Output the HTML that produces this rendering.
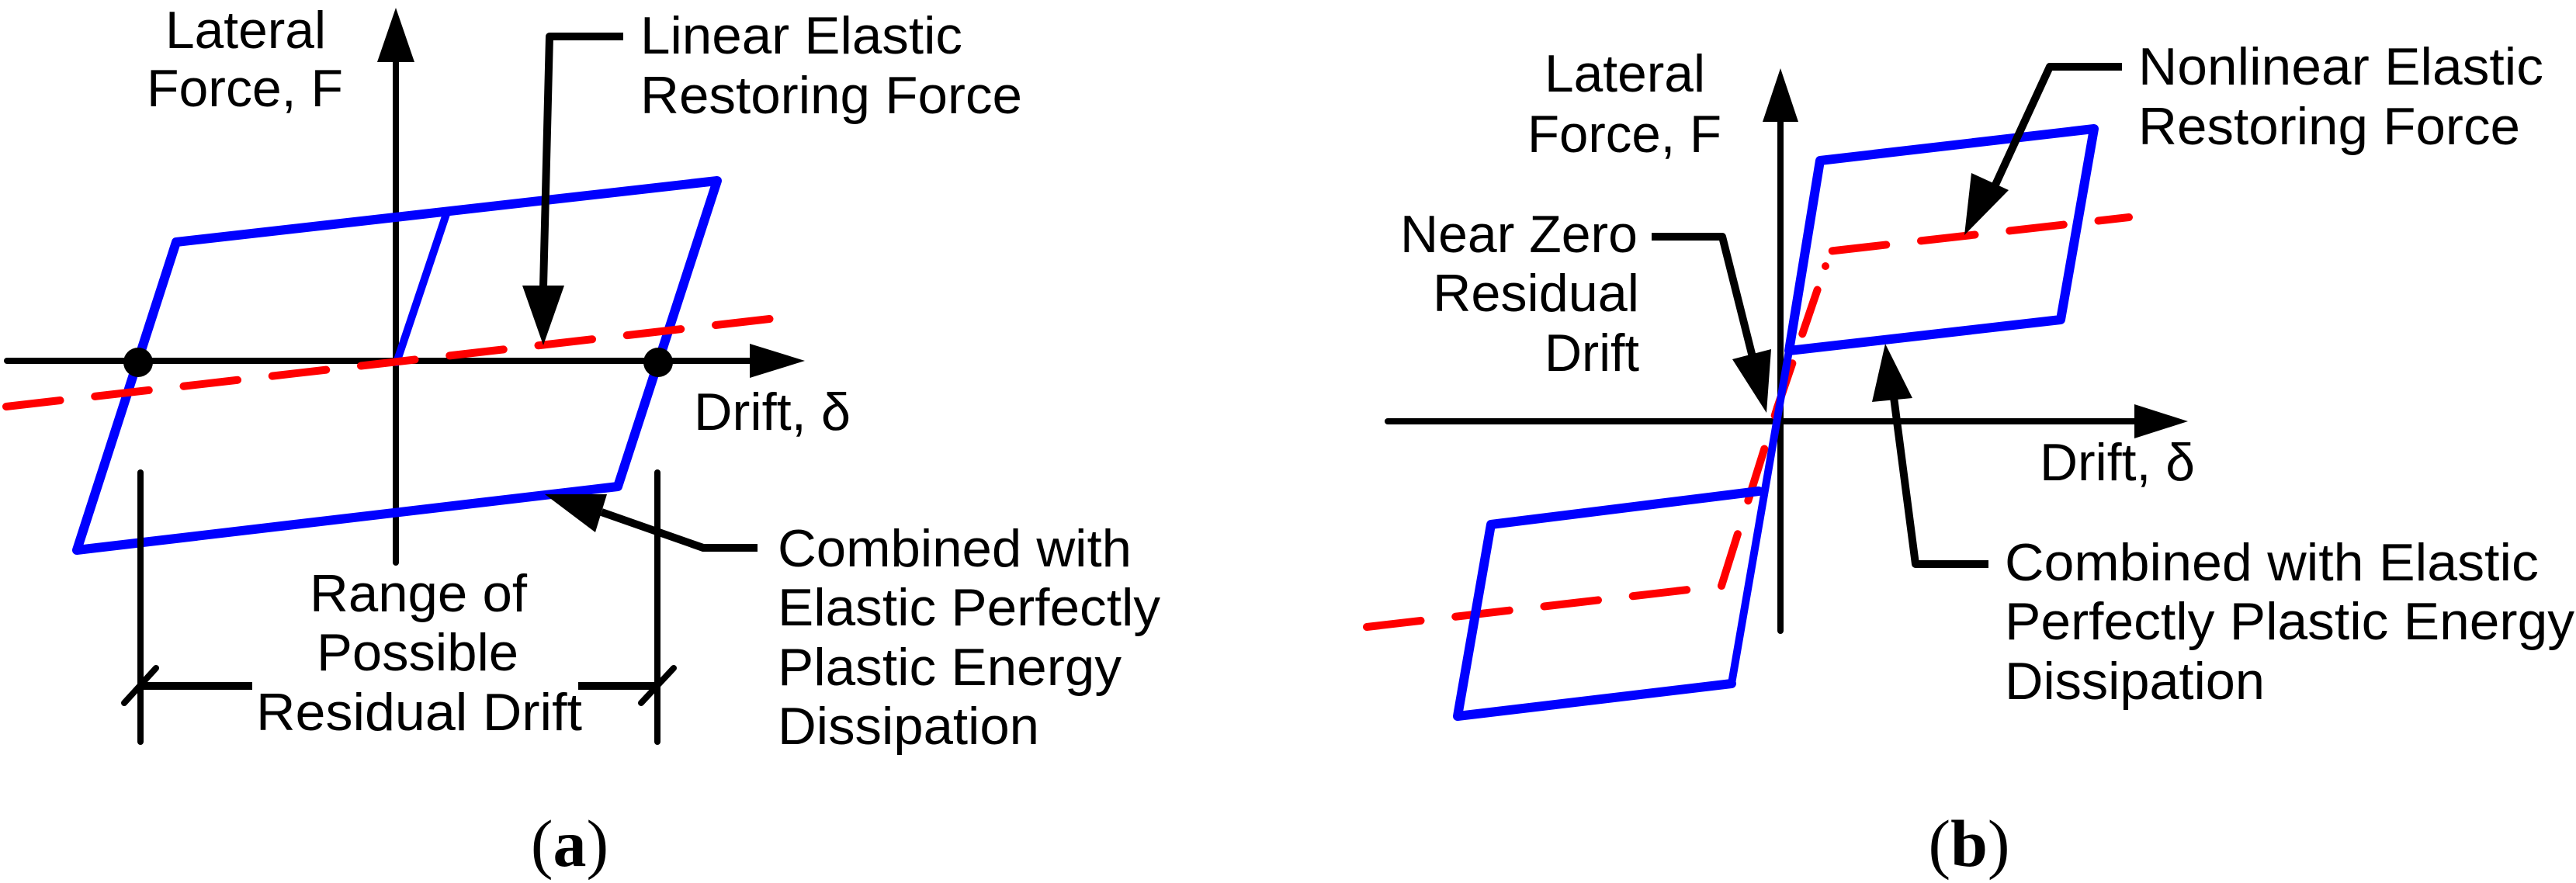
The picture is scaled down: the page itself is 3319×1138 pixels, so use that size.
<!DOCTYPE html>
<html><head><meta charset="utf-8"><style>html,body{margin:0;padding:0;background:#fff}svg{display:block}</style></head>
<body>
<svg width="3319" height="1138" viewBox="0 0 3319 1138" xmlns="http://www.w3.org/2000/svg" font-family="Liberation Sans, Arial, sans-serif" font-size="68">
<g stroke-linecap="round" stroke-linejoin="round" fill="none">
<!-- Panel A -->
<line x1="9" y1="465" x2="970" y2="465" stroke="#000" stroke-width="8"/>
<polygon points="966,443 1037,465 966,487" fill="#000" stroke="none"/>
<line x1="510" y1="80" x2="510" y2="725" stroke="#000" stroke-width="8"/>
<polygon points="486,80 510,10 534,80" fill="#000" stroke="none"/>
<polygon points="227,312 924,233 796,627 99,709" stroke="#00f" stroke-width="12"/>
<polyline points="511,467 575,276" stroke="#00f" stroke-width="10"/>
<line x1="8" y1="524" x2="1035" y2="406" stroke="#f00" stroke-width="10" stroke-dasharray="70,45"/>
<circle cx="178" cy="467" r="19" fill="#000" stroke="none"/>
<circle cx="848" cy="467" r="19" fill="#000" stroke="none"/>
<polyline points="803,47 708,47 700,370" stroke="#000" stroke-width="10" stroke-linecap="butt"/>
<polygon points="673,368 700,445 727,368" fill="#000" stroke="none"/>
<polyline points="976,706 906,706 775,660" stroke="#000" stroke-width="10" stroke-linecap="butt"/>
<polygon points="702,637 782,637 767,686" fill="#000" stroke="none"/>
<line x1="181" y1="609" x2="181" y2="956" stroke="#000" stroke-width="8"/>
<line x1="847" y1="609" x2="847" y2="956" stroke="#000" stroke-width="8"/>
<line x1="181" y1="884" x2="325" y2="884" stroke="#000" stroke-width="10" stroke-linecap="butt"/>
<line x1="745" y1="884" x2="847" y2="884" stroke="#000" stroke-width="10" stroke-linecap="butt"/>
<line x1="160" y1="906" x2="201" y2="861" stroke="#000" stroke-width="8"/>
<line x1="826" y1="906" x2="868" y2="861" stroke="#000" stroke-width="8"/>
<!-- Panel B -->
<line x1="1788" y1="543" x2="2755" y2="543" stroke="#000" stroke-width="8"/>
<polygon points="2750,521 2819,543 2750,565" fill="#000" stroke="none"/>
<line x1="2294" y1="155" x2="2294" y2="813" stroke="#000" stroke-width="8"/>
<polygon points="2271,157 2294,88 2317,157" fill="#000" stroke="none"/>
<polyline points="1761,808 2218,755 2290,525" stroke="#f00" stroke-width="10" stroke-dasharray="70,45"/>
<polyline points="2352,343 2355,324 2743,280" stroke="#f00" stroke-width="10" stroke-dasharray="0,25,70,45,70,45,70,45,70,45"/>
<line x1="2290" y1="525" x2="2352" y2="343" stroke="#f00" stroke-width="10" stroke-dasharray="60,40"/>
<polyline points="2305,452 2345,207 2698,166 2655,412 2305,452" stroke="#00f" stroke-width="12"/>
<polyline points="2231,881 1878,923 1921,676 2266,633" stroke="#00f" stroke-width="12"/>
<line x1="2231" y1="881" x2="2305" y2="452" stroke="#00f" stroke-width="10"/>
<polyline points="2734,86 2641,86 2560,262" stroke="#000" stroke-width="10" stroke-linecap="butt"/>
<polygon points="2531,303 2540,223 2588,245" fill="#000" stroke="none"/>
<polyline points="2128,305 2219,305 2258,460" stroke="#000" stroke-width="10" stroke-linecap="butt"/>
<polygon points="2276,532 2232,463 2282,450" fill="#000" stroke="none"/>
<polyline points="2562,727 2468,727 2440,512" stroke="#000" stroke-width="10" stroke-linecap="butt"/>
<polygon points="2429,443 2412,518 2464,513" fill="#000" stroke="none"/>
</g>
<g fill="#000">
<text x="213" y="62" textLength="207" lengthAdjust="spacingAndGlyphs">Lateral</text>
<text x="189" y="137" textLength="253" lengthAdjust="spacingAndGlyphs">Force, F</text>
<text x="825" y="69" textLength="415" lengthAdjust="spacingAndGlyphs">Linear Elastic</text>
<text x="825" y="146" textLength="492" lengthAdjust="spacingAndGlyphs">Restoring Force</text>
<text x="894" y="554" textLength="202" lengthAdjust="spacingAndGlyphs">Drift, δ</text>
<text x="1002" y="730" textLength="456" lengthAdjust="spacingAndGlyphs">Combined with</text>
<text x="1002" y="806" textLength="493" lengthAdjust="spacingAndGlyphs">Elastic Perfectly</text>
<text x="1002" y="883" textLength="443" lengthAdjust="spacingAndGlyphs">Plastic Energy</text>
<text x="1002" y="959" textLength="337" lengthAdjust="spacingAndGlyphs">Dissipation</text>
<text x="399" y="788" textLength="280" lengthAdjust="spacingAndGlyphs">Range of</text>
<text x="408" y="864" textLength="260" lengthAdjust="spacingAndGlyphs">Possible</text>
<text x="330" y="941" textLength="420" lengthAdjust="spacingAndGlyphs">Residual Drift</text>
<text x="734" y="1116" text-anchor="middle" font-family="Liberation Serif, serif" font-size="86"><tspan>(</tspan><tspan font-weight="bold">a</tspan><tspan>)</tspan></text>

<text x="1990" y="118" textLength="207" lengthAdjust="spacingAndGlyphs">Lateral</text>
<text x="1968" y="196" textLength="250" lengthAdjust="spacingAndGlyphs">Force, F</text>
<text x="2755" y="109" textLength="522" lengthAdjust="spacingAndGlyphs">Nonlinear Elastic</text>
<text x="2755" y="186" textLength="492" lengthAdjust="spacingAndGlyphs">Restoring Force</text>
<text x="1804" y="325" textLength="306" lengthAdjust="spacingAndGlyphs">Near Zero</text>
<text x="1846" y="401" textLength="266" lengthAdjust="spacingAndGlyphs">Residual</text>
<text x="1990" y="478" textLength="122" lengthAdjust="spacingAndGlyphs">Drift</text>
<text x="2628" y="619" textLength="200" lengthAdjust="spacingAndGlyphs">Drift, δ</text>
<text x="2583" y="748" textLength="688" lengthAdjust="spacingAndGlyphs">Combined with Elastic</text>
<text x="2583" y="824" textLength="734" lengthAdjust="spacingAndGlyphs">Perfectly Plastic Energy</text>
<text x="2583" y="901" textLength="335" lengthAdjust="spacingAndGlyphs">Dissipation</text>
<text x="2537" y="1116" text-anchor="middle" font-family="Liberation Serif, serif" font-size="86"><tspan>(</tspan><tspan font-weight="bold">b</tspan><tspan>)</tspan></text>
</g>
</svg>
</body></html>
